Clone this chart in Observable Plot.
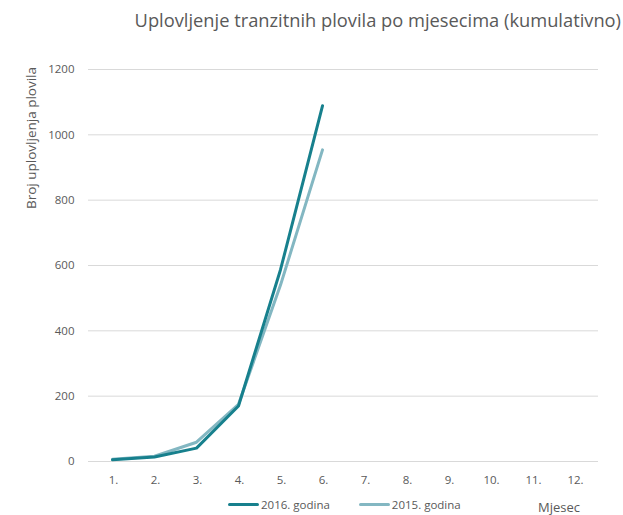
<!DOCTYPE html>
<html>
<head>
<meta charset="utf-8">
<script src="https://cdn.jsdelivr.net/npm/d3@7"></script>
<script src="https://cdn.jsdelivr.net/npm/@observablehq/plot@0.6"></script>
<style>
  html, body { margin: 0; padding: 0; background: #fff; }
  body { width: 623px; height: 515px; position: relative; overflow: hidden; font-family: "Open Sans", sans-serif; color: #595959; }
  #chart { position: absolute; left: 0; top: 0; }
  #title { position: absolute; top: 6px; left: 0; width: 623px; text-align: right; padding-right: 2px; box-sizing: border-box; font-size: 18.3px; line-height: 28px; color: #595959; white-space: nowrap; }
  #ylabel { position: absolute; left: 31px; top: 138px; transform: translate(-50%, -50%) rotate(-90deg); font-size: 13.5px; white-space: nowrap; color: #595959; }
  #legend { position: absolute; top: 497px; left: 228px; font-size: 11.5px; display: flex; align-items: center; white-space: nowrap; }
  .sw { display: inline-block; width: 31px; height: 3px; border-radius: 2px; margin-right: 2px; }
  .item { display: flex; align-items: center; margin-right: 29px; }
  #xlabel { position: absolute; top: 498px; left: 538px; font-size: 13px; color: #595959; }
</style>
</head>
<body>
<div id="chart"></div>
<div id="title"></div>
<div id="ylabel"></div>
<div id="legend"></div>
<div id="xlabel"></div>
<script>
const months = ["1.", "2.", "3.", "4.", "5.", "6.", "7.", "8.", "9.", "10.", "11.", "12."];
const values2016 = [5, 14, 41, 170, 587, 1089];
const values2015 = [7, 16, 59, 175, 540, 954];
const seriesNames = ["2016. godina", "2015. godina"];
const seriesColors = ["#17808d", "#83b7c2"];
const yTicks = [0, 200, 400, 600, 800, 1000, 1200];
const titleText = "Uplovljenje tranzitnih plovila po mjesecima (kumulativno)";
const yLabelText = "Broj uplovljenja plovila";
const xLabelText = "Mjesec";

const rows = [];
values2016.forEach((v, i) => rows.push({ month: months[i], value: v, series: seriesNames[0] }));
values2015.forEach((v, i) => rows.push({ month: months[i], value: v, series: seriesNames[1] }));

const chart = Plot.plot({
  width: 623,
  height: 490,
  marginTop: 69,
  marginBottom: 29,
  marginLeft: 88,
  marginRight: 25,
  style: { fontFamily: "'Open Sans', sans-serif", fontSize: "11.5px", color: "#595959", background: "transparent" },
  x: { type: "point", domain: months, padding: 0.5, label: null },
  y: { domain: [0, 1200], ticks: yTicks, label: null },
  color: { domain: seriesNames, range: seriesColors },
  marks: [
    Plot.gridY(yTicks, { stroke: "#d9d9d9", strokeOpacity: 1, strokeWidth: 1 }),
    Plot.axisY(yTicks, { tickSize: 0, tickPadding: 14, label: null, fill: "#595959", tickFormat: d => String(d) }),
    Plot.axisX({ tickSize: 0, tickPadding: 14, label: null, fill: "#595959", dx: 1 }),
    Plot.line(rows.filter(d => d.series === seriesNames[1]), { x: "month", y: "value", stroke: "series", strokeWidth: 3, strokeLinejoin: "round", strokeLinecap: "round" }),
    Plot.line(rows.filter(d => d.series === seriesNames[0]), { x: "month", y: "value", stroke: "series", strokeWidth: 3, strokeLinejoin: "round", strokeLinecap: "round" })
  ]
});
document.getElementById("chart").appendChild(chart);
document.getElementById("title").textContent = titleText;
document.getElementById("ylabel").textContent = yLabelText;
document.getElementById("xlabel").textContent = xLabelText;
const legend = document.getElementById("legend");
seriesNames.forEach((name, i) => {
  const item = document.createElement("div");
  item.className = "item";
  const sw = document.createElement("span");
  sw.className = "sw";
  sw.style.background = seriesColors[i];
  item.appendChild(sw);
  const t = document.createElement("span");
  t.textContent = name;
  item.appendChild(t);
  legend.appendChild(item);
});
</script>
</body>
</html>
